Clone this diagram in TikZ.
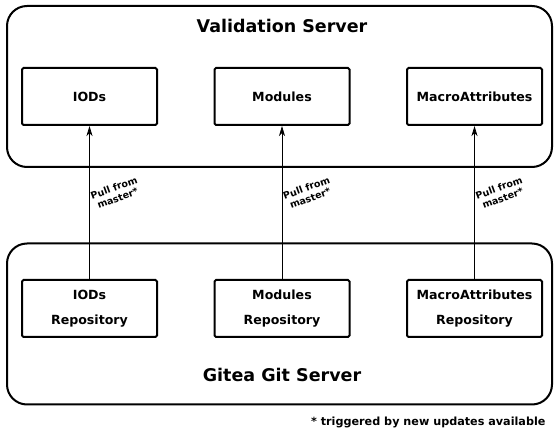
\documentclass[tikz,border=0pt]{standalone}
\usepackage{fontspec}
\setmainfont{DejaVu Sans}
\usetikzlibrary{arrows.meta}

\begin{document}
\begin{tikzpicture}[x=1pt, y=-1pt,
    server/.style={draw, line width=2pt, rounded corners=20pt, minimum width=545pt, minimum height=161pt},
    title/.style={font=\fontsize{17.5}{20}\bfseries\selectfont},
    repobox/.style={draw, line width=2pt, rounded corners=1.5pt, minimum width=135pt, minimum height=57pt, align=center,
        font=\fontsize{12.6}{25}\bfseries\selectfont},
    pull/.style={-{Stealth[length=10pt, width=6pt, inset=3pt]}, line width=0.8pt},
    pulllabel/.style={font=\fontsize{9.5}{11}\bfseries\selectfont, align=center, rotate=20, inner sep=0pt}]
    \useasboundingbox (0,0) rectangle (555,430);

    % Servers
    \node[server] (Validation) at (279.5,86.5) {};
    \node[title] (ValidationTitle) at (282,26) {Validation Server};
    \node[server] (Gitea) at (279.5,324) {};
    \node[title] (GiteaTitle) at (282,375) {Gitea Git Server};

    % Validation Server content
    \node[repobox] (IODs) at (89.5,96.5) {IODs};
    \node[repobox] (Modules) at (282,96.5) {Modules};
    \node[repobox] (MacroAttributes) at (474.5,96.5) {MacroAttributes};

    % Gitea repositories
    \node[repobox] (IODsRepo) at (89.5,308.5) {IODs\\Repository};
    \node[repobox] (ModulesRepo) at (282,308.5) {Modules\\Repository};
    \node[repobox] (MacroAttributesRepo) at (474.5,308.5) {MacroAttributes\\Repository};

    % Pull arrows
    \draw[pull] (IODsRepo) -- node[pulllabel, xshift=28pt] {Pull from\\master*} (IODs);
    \draw[pull] (ModulesRepo) -- node[pulllabel, xshift=28pt] {Pull from\\master*} (Modules);
    \draw[pull] (MacroAttributesRepo) -- node[pulllabel, xshift=28pt] {Pull from\\master*} (MacroAttributes);

    % Footnote
    \node[font=\fontsize{11.2}{13}\bfseries\selectfont, anchor=east] (Footnote) at (549,422) {* triggered by new updates available};
\end{tikzpicture}
\end{document}
